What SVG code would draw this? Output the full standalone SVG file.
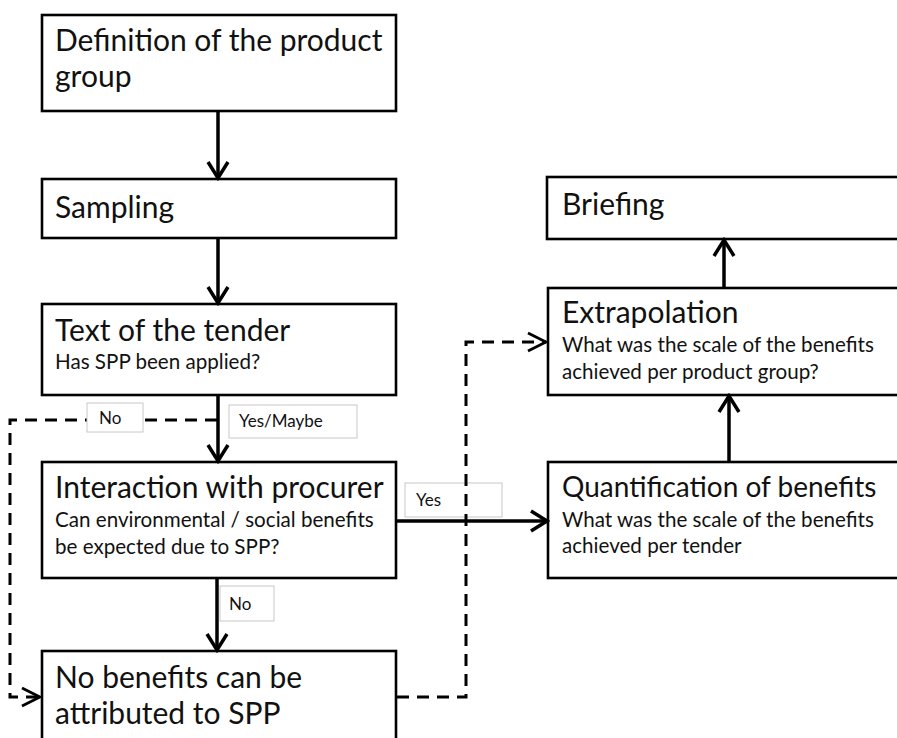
<svg xmlns="http://www.w3.org/2000/svg" width="897" height="738" viewBox="0 0 897 738">
<defs>
<style>
.box{fill:#fff;stroke:#000;stroke-width:2.6}
.lbl{fill:#fff;stroke:#c8c8c8;stroke-width:1}
.big{font-family:Lato,"Liberation Sans",sans-serif;font-size:30px;fill:#111}
.sm{font-family:Lato,"Liberation Sans",sans-serif;font-size:20.6px;fill:#111}
.lt{font-family:Lato,"Liberation Sans",sans-serif;font-size:17px;fill:#111}
.solid{fill:none;stroke:#000;stroke-width:3.5}
.dash{fill:none;stroke:#000;stroke-width:3;stroke-dasharray:12 8}
</style>
<marker id="ah" markerUnits="userSpaceOnUse" viewBox="0 0 22 24" refX="19" refY="12" markerWidth="22" markerHeight="24" orient="auto">
<path d="M3,2 L19,12 L3,22" fill="none" stroke="#000" stroke-width="3.5"/>
</marker>
<marker id="ahd" markerUnits="userSpaceOnUse" viewBox="0 0 24 24" refX="21" refY="12" markerWidth="24" markerHeight="24" orient="auto">
<path d="M3,3 L21,12 L3,21" fill="none" stroke="#000" stroke-width="2.8"/>
</marker>
</defs>
<rect width="897" height="738" fill="#fff"/>

<g id="connectors-under">
<path class="dash" d="M217,420 H10 V697 H40" marker-end="url(#ahd)"/>
</g>

<g id="n1">
<rect class="box" x="42" y="15" width="354" height="96"/>
<text class="big" x="55" y="51">Definition of the product</text>
<text class="big" x="55" y="87">group</text>
</g>
<g id="n2">
<rect class="box" x="42" y="179" width="354" height="59"/>
<text class="big" x="55" y="218">Sampling</text>
</g>
<g id="n3">
<rect class="box" x="42" y="304" width="354" height="91"/>
<text class="big" x="55" y="341">Text of the tender</text>
<text class="sm" x="55" y="369">Has SPP been applied?</text>
</g>
<g id="n4">
<rect class="box" x="42" y="462" width="354" height="116"/>
<text class="big" x="55" y="498">Interaction with procurer</text>
<text class="sm" x="55" y="527">Can environmental / social benefits</text>
<text class="sm" x="55" y="554">be expected due to SPP?</text>
</g>
<g id="n5">
<rect class="box" x="42" y="651" width="354" height="110"/>
<text class="big" x="55" y="688">No benefits can be</text>
<text class="big" x="55" y="724">attributed to SPP</text>
</g>
<g id="r1">
<rect class="box" x="547" y="177" width="360" height="62"/>
<text class="big" x="562" y="215">Briefing</text>
</g>
<g id="r2">
<rect class="box" x="548" y="288" width="360" height="107"/>
<text class="big" x="562" y="323">Extrapolation</text>
<text class="sm" x="562" y="352">What was the scale of the benefits</text>
<text class="sm" x="562" y="379">achieved per product group?</text>
</g>
<g id="r3">
<rect class="box" x="548" y="462" width="360" height="116"/>
<text class="big" x="562" y="497" style="font-size:28px">Quantification of benefits</text>
<text class="sm" x="562" y="527">What was the scale of the benefits</text>
<text class="sm" x="562" y="553">achieved per tender</text>
</g>

<g id="connectors">
<path class="solid" d="M218,111 V178" marker-end="url(#ah)"/>
<path class="solid" d="M218,238 V303" marker-end="url(#ah)"/>
<path class="solid" d="M218,395 V461" marker-end="url(#ah)"/>
<path class="solid" d="M217,578 V650" marker-end="url(#ah)"/>
<path class="solid" d="M396,521 H547" marker-end="url(#ah)"/>
<path class="solid" d="M729,462 V396" marker-end="url(#ah)"/>
<path class="solid" d="M724,288 V240" marker-end="url(#ah)"/>
</g>

<g id="labels">
<rect class="lbl" x="87" y="403" width="56" height="29"/>
<text class="lt" x="99" y="424">No</text>
<rect class="lbl" x="229" y="405" width="128" height="33"/>
<text class="lt" x="239" y="427">Yes/Maybe</text>
<rect class="lbl" x="405" y="483" width="97" height="34"/>
<text class="lt" x="416" y="506">Yes</text>
<rect class="lbl" x="220" y="586" width="54" height="35"/>
<text class="lt" x="229" y="610">No</text>
</g>

<g id="connectors-over">
<path class="dash" d="M397,697 H466 V342 H546" marker-end="url(#ahd)"/>
</g>
</svg>
